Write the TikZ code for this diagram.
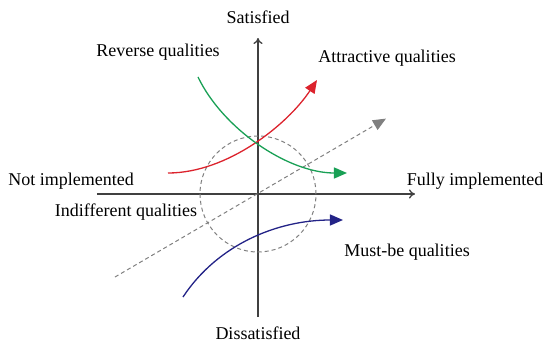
\documentclass[tikz,border=0pt]{standalone}
\usepackage{fontspec}
\setmainfont{Liberation Serif}
\usetikzlibrary{arrows.meta}
\definecolor{attred}{RGB}{220,35,45}
\definecolor{revgreen}{RGB}{25,160,85}
\definecolor{mustblue}{RGB}{35,35,135}
\tikzstyle{axis} = [line width=1.3pt, draw=black!75, -{To[length=6pt,width=9pt]}]
\tikzstyle{curve} = [line width=1.3pt, -{Triangle[length=13pt,width=11pt]}]
\tikzstyle{guide} = [draw=gray, line width=1pt, dash pattern=on 4pt off 3pt]
\tikzstyle{lbl} = [font=\fontsize{18}{20}\selectfont, inner sep=0pt]

\begin{document}
\begin{tikzpicture}[x=1pt, y=1pt]
      \useasboundingbox (-258,-152) rectangle (292,194);
      % axes
      \coordinate (O) at (0,0);
      \coordinate (xl) at (-161,0);
      \coordinate (xr) at (157,0);
      \coordinate (yb) at (0,-123);
      \coordinate (yt) at (0,156);
      \draw [axis](xl)--(xr);
      \draw [axis](yb)--(yt);
      \node (sat)[lbl] at (0,177) {Satisfied};
      \node (dis)[lbl] at (0,-139) {Dissatisfied};
      \node (notimp)[lbl] at (-187,13) {Not implemented};
      \node (fullimp)[lbl] at (217,13) {Fully implemented};
      % indifferent zone
      \draw [guide](O) circle (58);
      \coordinate (g0) at (-143,-83);
      \coordinate (g1) at (129,76);
      \draw [guide, -{Triangle[length=13pt,width=11pt,sep]}](g0)--(g1);
      % quality curves
      \coordinate (r0) at (-90,21);
      \coordinate (r1) at (59,114);
      \draw [curve, draw=attred](r0) .. controls (-30,21) and (30,70) .. (r1);
      \coordinate (v0) at (-60,117);
      \coordinate (v1) at (89,21);
      \draw [curve, draw=revgreen](v0) .. controls (-35,65) and (30,21) .. (v1);
      \coordinate (m0) at (-75,-103);
      \coordinate (m1) at (85,-26);
      \draw [curve, draw=mustblue](m0) .. controls (-40,-50) and (20,-26) .. (m1);
      \node (rev)[lbl] at (-100,142) {Reverse qualities};
      \node (att)[lbl] at (129,136) {Attractive qualities};
      \node (ind)[lbl] at (-132,-18) {Indifferent qualities};
      \node (must)[lbl] at (149,-58) {Must-be qualities};
    \end{tikzpicture}
\end{document}
